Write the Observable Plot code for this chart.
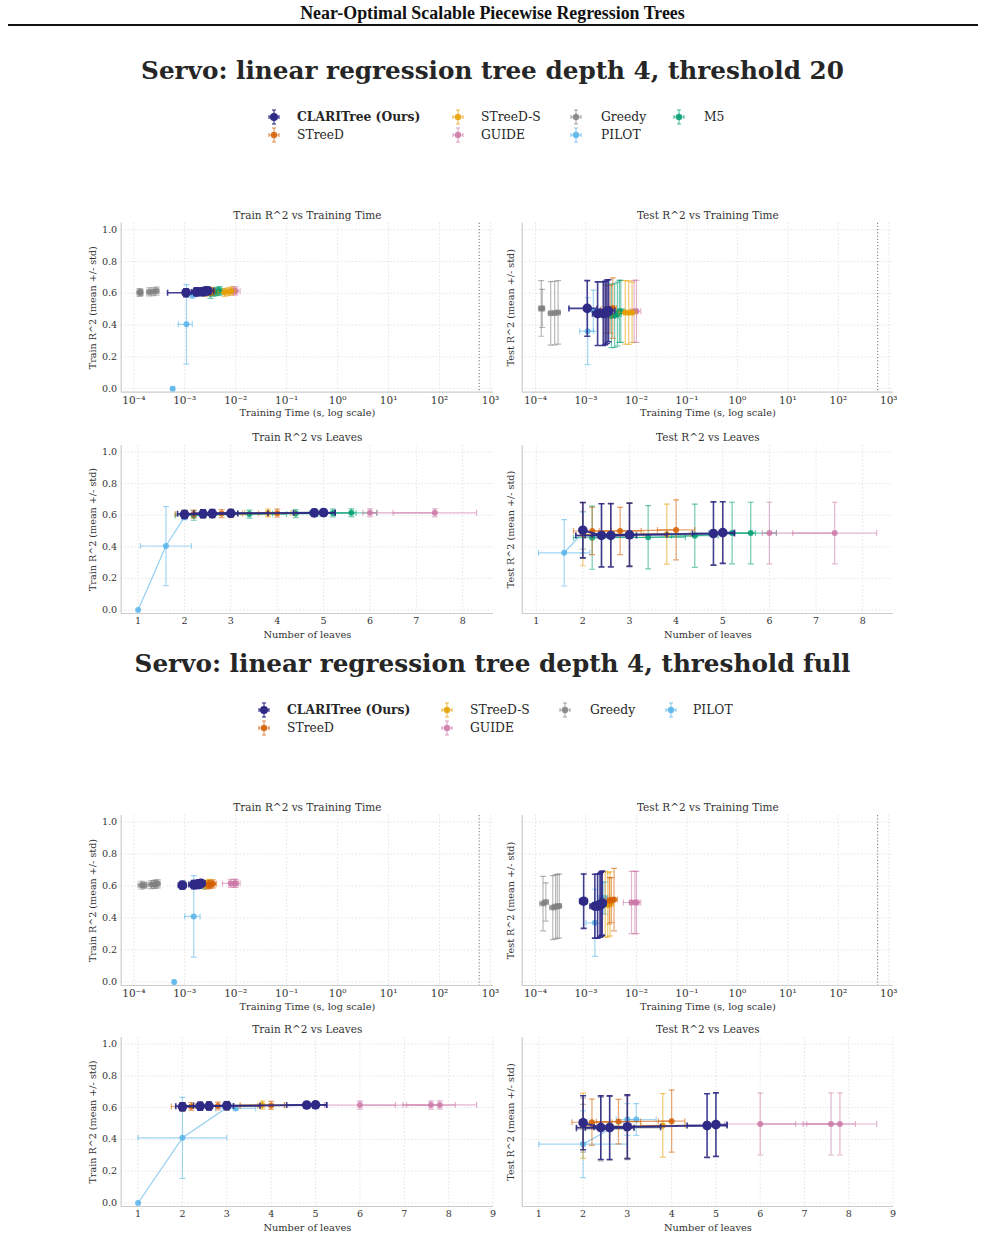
<!DOCTYPE html>
<html>
<head>
<meta charset="utf-8">
<script src="https://cdn.jsdelivr.net/npm/d3@7"></script>
<script src="https://cdn.jsdelivr.net/npm/@observablehq/plot@0.6"></script>
<style>
  body { margin: 0; background: #fff; }
  #page { position: relative; width: 985px; height: 1234px; font-family: "DejaVu Serif", serif; color: #262626; overflow: hidden; }
  .abs { position: absolute; }
  .header { left: 0; width: 985px; text-align: center; font-family: "Liberation Serif", serif; font-weight: bold; font-size: 17.9px; color: #111; line-height: 1; }
  .rule { left: 8px; width: 970px; height: 2px; background: #111; }
  .stitle { left: 0; width: 985px; text-align: center; font-weight: bold; font-size: 24.7px; color: #262626; line-height: 1; }
  .ltext { font-size: 12.3px; line-height: 1; white-space: nowrap; color: #262626; }
</style>
</head>
<body>
<div id="page"></div>
<script>
// Methods, legend order, and colours
const methods = ["CLARITree (Ours)", "STreeD", "STreeD-S", "GUIDE", "Greedy", "PILOT", "M5"];
const methodColors = ["#2e2a85", "#d55e00", "#e69f00", "#cc79a7", "#808080", "#56b4e9", "#009e73"];
// Drawing order: CLARITree last so it sits on top
const drawOrder = [4, 5, 6, 3, 2, 1, 0];

// Each row: [leaves, leavesSd, time (s), timeSd, trainR2, trainSd, testR2, testSd]
// --- threshold 20 ---
const thr20Clari = [
  [2.0, 0.0, 1.06e-3, 0.60e-3, 0.604, 0.025, 0.505, 0.175],
  [2.4, 0.55, 1.7e-3, 0.35e-3, 0.609, 0.025, 0.472, 0.20],
  [2.6, 0.55, 2.2e-3, 0.45e-3, 0.610, 0.025, 0.472, 0.20],
  [3.0, 0.80, 2.4e-3, 0.55e-3, 0.612, 0.022, 0.476, 0.20],
  [4.8, 0.45, 2.6e-3, 0.65e-3, 0.615, 0.022, 0.484, 0.20],
  [5.0, 0.25, 2.8e-3, 0.90e-3, 0.616, 0.022, 0.490, 0.195]
];
const thr20Streed = [
  [2.2, 0.40, 2.5e-3, 0.5e-3, 0.607, 0.025, 0.500, 0.15],
  [2.8, 0.45, 3.0e-3, 0.6e-3, 0.610, 0.025, 0.500, 0.15],
  [4.0, 0.40, 3.4e-3, 0.6e-3, 0.613, 0.025, 0.507, 0.19]
];
const thr20StreedS = [
  [2.0, 0.0, 6.0e-3, 1.5e-3, 0.605, 0.025, 0.480, 0.20],
  [3.0, 0.80, 7.0e-3, 1.5e-3, 0.610, 0.025, 0.478, 0.20],
  [3.8, 0.50, 8.2e-3, 1.8e-3, 0.614, 0.025, 0.480, 0.19]
];
const thr20Guide = [
  [6.0, 0.15, 9.0e-3, 1.5e-3, 0.615, 0.025, 0.487, 0.195],
  [7.4, 0.90, 1.0e-2, 2.2e-3, 0.615, 0.025, 0.487, 0.195]
];
const thr20Greedy = [
  [2.0, 0.0, 1.30e-4, 0.15e-4, 0.605, 0.025, 0.505, 0.175],
  [2.0, 0.0, 1.36e-4, 0.15e-4, 0.605, 0.020, 0.505, 0.12],
  [2.4, 0.55, 2.0e-4, 0.20e-4, 0.609, 0.025, 0.474, 0.20],
  [2.6, 0.55, 2.4e-4, 0.25e-4, 0.610, 0.025, 0.476, 0.20],
  [3.0, 0.80, 2.8e-4, 0.30e-4, 0.614, 0.025, 0.480, 0.20]
];
const thr20Pilot = [
  [1.0, 0.0, 5.8e-4, 0.4e-4, 0.000, 0.0, null, null],
  [1.6, 0.55, 1.08e-3, 0.33e-3, 0.405, 0.25, 0.362, 0.21],
  [2.0, 0.0, 1.4e-3, 0.3e-3, 0.590, 0.02, 0.490, 0.13]
];
const thr20M5 = [
  [2.2, 0.40, 3.2e-3, 0.6e-3, 0.598, 0.030, 0.458, 0.20],
  [3.4, 0.80, 3.7e-3, 0.7e-3, 0.607, 0.025, 0.460, 0.20],
  [4.4, 0.50, 4.2e-3, 0.8e-3, 0.610, 0.025, 0.470, 0.20],
  [5.2, 0.50, 4.6e-3, 0.9e-3, 0.614, 0.025, 0.487, 0.195],
  [5.6, 0.55, 4.9e-3, 1.0e-3, 0.615, 0.025, 0.487, 0.195]
];

// --- threshold full ---
const fullClari = [
  [2.0, 0.0, 9.0e-4, 0.15e-3, 0.605, 0.025, 0.505, 0.17],
  [2.4, 0.55, 1.5e-3, 0.30e-3, 0.609, 0.025, 0.474, 0.20],
  [2.6, 0.55, 1.7e-3, 0.30e-3, 0.610, 0.025, 0.474, 0.20],
  [3.0, 0.75, 1.9e-3, 0.35e-3, 0.612, 0.025, 0.480, 0.20],
  [4.8, 0.45, 2.0e-3, 0.40e-3, 0.616, 0.020, 0.487, 0.20],
  [5.0, 0.25, 2.1e-3, 0.40e-3, 0.617, 0.020, 0.493, 0.20]
];
const fullStreed = [
  [2.2, 0.45, 2.9e-3, 0.5e-3, 0.607, 0.025, 0.508, 0.145],
  [2.8, 0.50, 3.2e-3, 0.5e-3, 0.610, 0.025, 0.512, 0.14],
  [4.0, 0.30, 3.6e-3, 0.6e-3, 0.614, 0.025, 0.515, 0.195]
];
const fullStreedS = [
  [2.0, 0.0, 2.4e-3, 0.4e-3, 0.605, 0.025, 0.486, 0.205],
  [3.0, 0.80, 2.7e-3, 0.5e-3, 0.610, 0.025, 0.482, 0.20],
  [3.8, 0.50, 3.0e-3, 0.5e-3, 0.616, 0.025, 0.488, 0.20]
];
const fullGuide = [
  [6.0, 0.80, 8.0e-3, 2.5e-3, 0.616, 0.025, 0.497, 0.195],
  [7.6, 0.55, 9.3e-3, 2.0e-3, 0.616, 0.025, 0.497, 0.195],
  [7.8, 0.83, 1.0e-2, 2.2e-3, 0.617, 0.025, 0.497, 0.195]
];
const fullGreedy = [
  [2.0, 0.0, 1.41e-4, 0.2e-4, 0.605, 0.025, 0.490, 0.17],
  [2.0, 0.0, 1.60e-4, 0.2e-4, 0.605, 0.020, 0.500, 0.12],
  [2.4, 0.55, 2.2e-4, 0.3e-4, 0.609, 0.025, 0.465, 0.20],
  [2.6, 0.55, 2.5e-4, 0.3e-4, 0.610, 0.025, 0.470, 0.20],
  [3.0, 0.75, 2.7e-4, 0.3e-4, 0.612, 0.025, 0.473, 0.20],
  [3.0, 0.75, 2.96e-4, 0.3e-4, 0.614, 0.025, 0.475, 0.20]
];
const fullPilot = [
  [1.0, 0.0, 6.2e-4, 0.3e-4, 0.000, 0.0, null, null],
  [2.0, 1.0, 1.5e-3, 0.5e-3, 0.410, 0.255, 0.370, 0.21],
  [3.0, 0.0, 2.2e-3, 0.4e-3, 0.600, 0.01, 0.525, 0.10],
  [3.2, 0.45, 2.4e-3, 0.5e-3, 0.595, 0.01, 0.525, 0.10]
];

// Axis ticks
const timeTicks = [1e-4, 1e-3, 1e-2, 1e-1, 1e0, 1e1, 1e2, 1e3];
const r2Ticks = [0, 0.2, 0.4, 0.6, 0.8, 1.0];
const leafTicks20 = [1, 2, 3, 4, 5, 6, 7, 8];
const leafTicksFull = [1, 2, 3, 4, 5, 6, 7, 8, 9];
const timeLimit = 600;

const sup = {"-": "\u207B", "0": "\u2070", "1": "\u00B9", "2": "\u00B2", "3": "\u00B3", "4": "\u2074", "5": "\u2075"};
const powFmt = d => "10" + String(Math.round(Math.log10(d))).split("").map(c => sup[c]).join("");

function toRecords(lists) {
  const out = [];
  lists.forEach((rows, m) => {
    if (!rows) return;
    rows.forEach(r => out.push({m, leaves: r[0], leavesSd: r[1], time: r[2], timeSd: r[3],
      train: r[4], trainSd: r[5], test: r[6], testSd: r[7]}));
  });
  return out;
}

// custom cap symbols for error bars
const hCap = {draw(ctx, size) { const r = Math.sqrt(size / Math.PI); ctx.moveTo(-r, 0); ctx.lineTo(r, 0); }};
const vCap = {draw(ctx, size) { const r = Math.sqrt(size / Math.PI); ctx.moveTo(0, -r); ctx.lineTo(0, r); }};

const page = document.getElementById("page");
const FONT = '"DejaVu Serif", serif';

function place(el, left, top) {
  el.style.position = "absolute";
  el.style.left = left + "px";
  el.style.top = top + "px";
  page.appendChild(el);
}

function panel(recs, o) {
  const isTime = o.xKey === "time";
  const yDomain = [-0.022, 1.041];
  const marks = [
    Plot.gridX({ticks: o.xTicks, stroke: "#e4e4e4", strokeOpacity: 1, strokeDasharray: "1.5,2"}),
    Plot.gridY({ticks: r2Ticks, stroke: "#e4e4e4", strokeOpacity: 1, strokeDasharray: "1.5,2"}),
    Plot.ruleX([o.xDomain[0]], {stroke: "#cccccc", strokeWidth: 1.2}),
    Plot.ruleY([yDomain[0]], {stroke: "#cccccc", strokeWidth: 1.2}),
    Plot.axisX({ticks: o.xTicks, tickFormat: isTime ? powFmt : d => String(d), tickSize: 0, tickPadding: 4,
      fontSize: isTime ? 10.5 : 9.5, fill: "#333", label: null}),
    Plot.axisX({ticks: [], label: o.xLabel, labelAnchor: "center", labelArrow: "none", labelOffset: 24, fill: "#333", fontSize: 9.8}),
    Plot.axisY({ticks: r2Ticks, tickFormat: o.yTickLabels ? d3.format(".1f") : () => "", tickSize: 0, tickPadding: 4,
      fill: "#333", label: o.yLabel, labelAnchor: "center", labelArrow: "none", labelOffset: o.yLabelOffset}),
    Plot.text([o.title], {text: d => d, frameAnchor: "top", dy: -12, fontSize: 10.5, fill: "#333"})
  ];
  if (isTime) marks.push(Plot.ruleX([timeLimit], {stroke: "#888", strokeWidth: 1.2, strokeDasharray: "1.2,2"}));

  const xk = o.xKey, yk = o.yKey;
  for (const m of drawOrder) {
    const d = recs.filter(r => r.m === m && r[yk] != null).sort((a, b) => a[xk] - b[xk]);
    if (!d.length) continue;
    const c = methodColors[m];
    const main = m === 0;
    const bw = main ? 1.6 : 1.2, bo = main ? 0.9 : 0.55;
    const X = r => r[xk], Y = r => r[yk];
    const xLo = r => Math.max(r[xk] - r[xk + "Sd"], 1e-7), xHi = r => r[xk] + r[xk + "Sd"];
    const yLo = r => r[yk] - r[yk + "Sd"], yHi = r => r[yk] + r[yk + "Sd"];
    const dx = d.filter(r => r[xk + "Sd"] > 0), dy = d.filter(r => r[yk + "Sd"] > 0);
    const bar = {stroke: c, strokeWidth: bw, strokeOpacity: bo, clip: true};
    if (o.lines) marks.push(Plot.line(d, {x: X, y: Y, stroke: c, strokeWidth: main ? 2 : 1.3, strokeOpacity: main ? 0.9 : 0.6, clip: true}));
    marks.push(
      Plot.ruleY(dx, {y: Y, x1: xLo, x2: xHi, ...bar}),
      Plot.dot(dx, {x: xLo, y: Y, symbol: vCap, r: 3, fill: "none", ...bar}),
      Plot.dot(dx, {x: xHi, y: Y, symbol: vCap, r: 3, fill: "none", ...bar}),
      Plot.ruleX(dy, {x: X, y1: yLo, y2: yHi, ...bar}),
      Plot.dot(dy, {x: X, y: yLo, symbol: hCap, r: 3, fill: "none", ...bar}),
      Plot.dot(dy, {x: X, y: yHi, symbol: hCap, r: 3, fill: "none", ...bar}),
      Plot.dot(d, {x: X, y: Y, r: main ? 4.8 : 3, fill: c, fillOpacity: main ? 1 : 0.85, stroke: "none", clip: true})
    );
  }

  const svg = Plot.plot({
    width: o.width, height: o.height,
    marginLeft: o.ml, marginRight: o.mr, marginTop: o.mt, marginBottom: o.mb,
    style: {fontFamily: FONT, fontSize: "9.6px", color: "#333", background: "transparent", overflow: "visible"},
    x: isTime ? {type: "log", domain: o.xDomain} : {type: "linear", domain: o.xDomain},
    y: {type: "linear", domain: yDomain},
    marks
  });
  place(svg, o.left, o.top);
}

function text(cls, str, left, top) {
  const el = document.createElement("div");
  el.className = "abs " + cls;
  el.textContent = str;
  el.style.left = left + "px";
  el.style.top = top + "px";
  page.appendChild(el);
  return el;
}

function legendIcon(m, cx, cy) {
  const ns = "http://www.w3.org/2000/svg";
  const s = document.createElementNS(ns, "svg");
  s.setAttribute("width", 14); s.setAttribute("height", 18);
  const c = methodColors[m], op = m === 0 ? 0.9 : 0.6;
  const seg = (x1, y1, x2, y2) => {
    const l = document.createElementNS(ns, "line");
    Object.entries({x1, y1, x2, y2, stroke: c, "stroke-width": 1.2, "stroke-opacity": op}).forEach(([k, v]) => l.setAttribute(k, v));
    s.appendChild(l);
  };
  seg(7, 2, 7, 16); seg(5, 2, 9, 2); seg(5, 16, 9, 16);
  seg(2, 9, 12, 9); seg(2, 7, 2, 11); seg(12, 7, 12, 11);
  const ci = document.createElementNS(ns, "circle");
  ci.setAttribute("cx", 7); ci.setAttribute("cy", 9); ci.setAttribute("r", m === 0 ? 4 : 3.2);
  ci.setAttribute("fill", c); ci.setAttribute("fill-opacity", m === 0 ? 1 : 0.85);
  s.appendChild(ci);
  place(s, cx - 7, cy - 9);
}

function legend(items) {
  for (const [m, mx, tx, y] of items) {
    legendIcon(m, mx, y);
    const el = text("ltext", methods[m], tx, y - 6.5);
    if (m === 0) el.style.fontWeight = "bold";
  }
}

// Page header
text("header", "Near-Optimal Scalable Piecewise Regression Trees", 0, 5);
const rule = document.createElement("div"); rule.className = "abs rule"; rule.style.top = "24px"; page.appendChild(rule);

function section(lists, titleStr, titleTop, legendItems, tops, leafDomains, leafTicks) {
  text("stitle", titleStr, 0, titleTop);
  legend(legendItems);
  const recs = toRecords(lists);
  const L = {left: 40, width: 460, ml: 80.7, mr: 7, yTickLabels: true, yLabelOffset: 32};
  const R = {left: 500, width: 400, ml: 21.7, mr: 7, yTickLabels: false, yLabelOffset: 15};
  const timeDom = [5.66e-5, 1145];
  panel(recs, {...L, ...tops[0], xKey: "time", yKey: "train", xDomain: timeDom, xTicks: timeTicks,
    title: "Train R^2 vs Training Time", xLabel: "Training Time (s, log scale)", yLabel: "Train R^2 (mean +/- std)"});
  panel(recs, {...R, ...tops[0], xKey: "time", yKey: "test", xDomain: [5.45e-5, 1240], xTicks: timeTicks,
    title: "Test R^2 vs Training Time", xLabel: "Training Time (s, log scale)", yLabel: "Test R^2 (mean +/- std)"});
  panel(recs, {...L, ...tops[1], xKey: "leaves", yKey: "train", xDomain: leafDomains[0], xTicks: leafTicks, lines: true,
    title: "Train R^2 vs Leaves", xLabel: "Number of leaves", yLabel: "Train R^2 (mean +/- std)"});
  panel(recs, {...R, ...tops[1], xKey: "leaves", yKey: "test", xDomain: leafDomains[1], xTicks: leafTicks, lines: true,
    title: "Test R^2 vs Leaves", xLabel: "Number of leaves", yLabel: "Test R^2 (mean +/- std)"});
}

section([thr20Clari, thr20Streed, thr20StreedS, thr20Guide, thr20Greedy, thr20Pilot, thr20M5],
  "Servo: linear regression tree depth 4, threshold 20", 59,
  [[0, 274, 297, 117], [1, 274, 297, 135], [2, 458, 481, 117], [3, 458, 481, 135],
   [4, 576, 601, 117], [5, 576, 601, 135], [6, 679, 704, 117]],
  [{top: 200, height: 220, mt: 22.7, mb: 28.3}, {top: 425, height: 215, mt: 20, mb: 27}],
  [[0.635, 8.665], [0.70, 8.66]], leafTicks20);

section([fullClari, fullStreed, fullStreedS, fullGuide, fullGreedy, fullPilot, null],
  "Servo: linear regression tree depth 4, threshold full", 652,
  [[0, 264, 287, 710], [1, 264, 287, 728], [2, 447, 470, 710], [3, 447, 470, 728],
   [4, 565, 590, 710], [5, 671, 693, 710]],
  [{top: 795, height: 217, mt: 20, mb: 27}, {top: 1017, height: 216, mt: 20, mb: 27}],
  [[0.62, 9.01], [0.625, 9.01]], leafTicksFull);
</script>
</body>
</html>
